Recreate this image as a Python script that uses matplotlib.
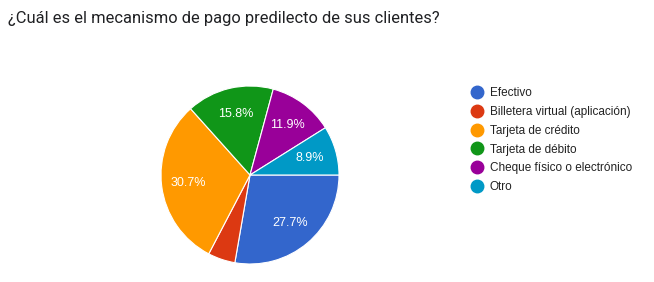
import matplotlib.pyplot as plt
from matplotlib.lines import Line2D

# Respuestas (de 101)
labels = ['Efectivo', 'Billetera virtual (aplicación)', 'Tarjeta de crédito',
          'Tarjeta de débito', 'Cheque físico o electrónico', 'Otro']
counts = [28, 5, 31, 16, 12, 9]
colors = ['#3366cc', '#dc3912', '#ff9900', '#109618', '#990099', '#0099c6']

title = '¿Cuál es el mecanismo de pago predilecto de sus clientes?'

fig = plt.figure(figsize=(6.54, 2.82), dpi=100)
fig.patch.set_facecolor('white')

ax = fig.add_axes([161 / 654, 18 / 282, 178 / 654, 178 / 282])


def pct_label(p):
    # Google oculta la etiqueta en porciones pequeñas
    return f'{p:.1f}%' if p > 6 else ''


wedges, texts, autotexts = ax.pie(
    counts, colors=colors, startangle=0, counterclock=False,
    autopct=pct_label, pctdistance=0.7,
    wedgeprops=dict(edgecolor='white', linewidth=0.8),
    textprops=dict(color='white', fontsize=9, family=['Liberation Sans', 'DejaVu Sans']),
    radius=1.0)
ax.set_xlim(-1, 1)
ax.set_ylim(-1, 1)
ax.set_aspect('equal')

fig.text(8 / 654, 1 - 18 / 282, title, ha='left', va='center',
         fontsize=11.9, color='#202124', family=['Roboto', 'DejaVu Sans'])

handles = [Line2D([], [], marker='o', linestyle='', markersize=9,
                  markerfacecolor=c, markeredgecolor=c) for c in colors]
fig.legend(handles, labels, loc='upper left',
           bbox_to_anchor=(471 / 654, 1 - 87 / 282),
           frameon=False, labelspacing=0.58,
           handletextpad=0.6, handlelength=1.0, borderpad=0, borderaxespad=0,
           prop=dict(family=['Liberation Sans', 'DejaVu Sans'], size=8.5))
for t in fig.legends[0].get_texts():
    t.set_color('#222222')

fig.savefig('out.png', dpi=100, facecolor='white')
